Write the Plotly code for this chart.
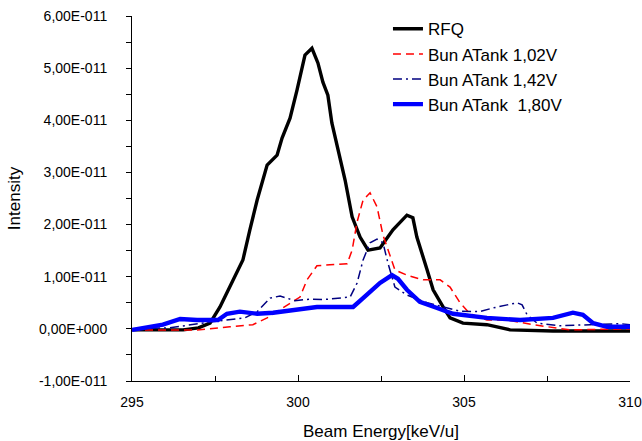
import numpy as np
import plotly.graph_objects as go

SCALE = 1e-11

rfq_e = [295.0, 296.54, 297.0, 297.35, 297.65, 297.95, 298.34, 298.55, 298.77, 299.07, 299.37, 299.52,
         299.76, 299.97, 300.21, 300.42, 300.60, 300.75, 300.90, 301.02, 301.20, 301.42, 301.63, 301.87,
         302.11, 302.47, 302.86, 303.28, 303.46, 303.58, 303.89, 304.07, 304.37, 304.58, 304.97, 305.69,
         306.39, 307.68, 310.0]
rfq_i = [-0.02, -0.02, 0.02, 0.11, 0.42, 0.80, 1.32, 1.90, 2.47, 3.14, 3.33, 3.66,
         4.04, 4.58, 5.25, 5.38, 5.10, 4.73, 4.48, 3.95, 3.43, 2.85, 2.15, 1.76,
         1.51, 1.55, 1.90, 2.18, 2.13, 1.76, 1.13, 0.75, 0.42, 0.21, 0.11, 0.08,
         -0.02, -0.04, -0.04]

v102_e = [295.0, 295.75, 296.96, 297.95, 298.64, 299.07, 299.67, 300.06, 300.27, 300.57, 300.96, 301.48,
          301.63, 301.78, 301.96, 302.17, 302.38, 302.56, 302.92, 303.28, 303.77, 304.28, 304.58, 304.88,
          305.18, 305.69, 306.30, 307.08, 308.19, 310.0]
v102_i = [-0.02, -0.02, -0.02, 0.04, 0.08, 0.21, 0.46, 0.61, 0.94, 1.21, 1.23, 1.25,
          1.51, 2.05, 2.47, 2.61, 2.34, 1.80, 1.13, 1.03, 0.94, 0.94, 0.80, 0.50,
          0.29, 0.17, 0.17, 0.08, -0.02, 0.0]

v142_e = [295.0, 296.14, 297.35, 298.40, 298.77, 299.16, 299.46, 299.91, 300.36, 300.75, 301.57, 301.78,
          301.96, 302.17, 302.38, 302.56, 302.71, 302.92, 303.28, 303.89, 304.37, 304.88, 305.48, 305.87,
          306.30, 306.60, 306.75, 306.90, 307.20, 307.89, 308.80, 309.70, 310.0]
v142_i = [0.0, 0.02, 0.13, 0.21, 0.33, 0.59, 0.63, 0.54, 0.57, 0.56, 0.61, 0.88,
          1.32, 1.65, 1.72, 1.65, 1.26, 0.80, 0.65, 0.50, 0.42, 0.34, 0.33, 0.40,
          0.46, 0.50, 0.46, 0.27, 0.11, 0.06, 0.08, 0.10, 0.08]

v180_e = [295.0, 295.45, 295.93, 296.45, 296.96, 297.59, 297.86, 298.25, 298.77, 299.25, 299.97, 300.57,
          301.17, 301.66, 301.96, 302.47, 302.83, 303.01, 303.28, 303.67, 304.19, 304.67, 305.69, 306.69,
          307.68, 308.28, 308.58, 308.89, 309.31, 310.0]
v180_i = [-0.02, 0.02, 0.08, 0.19, 0.17, 0.17, 0.29, 0.33, 0.29, 0.31, 0.36, 0.42,
          0.42, 0.42, 0.59, 0.88, 1.03, 0.96, 0.75, 0.52, 0.40, 0.29, 0.21, 0.17,
          0.21, 0.31, 0.27, 0.11, 0.04, 0.04]

names = ["RFQ", "Bun ATank 1,02V", "Bun ATank 1,42V", "Bun ATank  1,80V"]
ytickvals = [-1, 0, 1, 2, 3, 4, 5, 6]
yticktext = ["-1,00E-011", "0,00E+000", "1,00E-011", "2,00E-011", "3,00E-011",
             "4,00E-011", "5,00E-011", "6,00E-011"]
xtickvals = [295, 300, 305, 310]

FONT = "Arial, 'Liberation Sans', sans-serif"

fig = go.Figure()
series = [
    (rfq_e, rfq_i, dict(color="black", width=3.4)),
    (v102_e, v102_i, dict(color="#ff0000", width=1.5, dash="8px,5px")),
    (v142_e, v142_i, dict(color="#000080", width=1.5, dash="9px,4px,2px,4px")),
    (v180_e, v180_i, dict(color="#0000ff", width=4.4)),
]
for (e, i, ln), nm in zip(series, names):
    fig.add_trace(go.Scatter(x=e, y=np.array(i) * SCALE, mode="lines", name=nm, line=ln))

fig.update_layout(
    width=642, height=441,
    margin=dict(l=132, r=12, t=16, b=60, autoexpand=False),
    paper_bgcolor="white", plot_bgcolor="white",
    font=dict(family=FONT, size=14, color="black"),
    showlegend=True,
    legend=dict(x=0.514, y=1.013, xanchor="left", yanchor="top",
                bgcolor="rgba(0,0,0,0)", borderwidth=0,
                font=dict(size=17, family=FONT), itemwidth=30,
                tracegroupgap=0),
    xaxis=dict(range=[295, 310], tickvals=xtickvals, ticks="inside", ticklen=6,
               tickcolor="black", showline=True, linecolor="black", linewidth=1,
               showgrid=False, zeroline=False, mirror=False, automargin=False,
               minor=dict(dtick=2.5, tick0=295, ticks="inside", ticklen=5, tickcolor="black", showgrid=False),
               ticklabelstandoff=8,
               title=dict(text="Beam Energy[keV/u]", font=dict(size=17), standoff=18),
               tickfont=dict(size=14)),
    yaxis=dict(range=[-1 * SCALE, 6 * SCALE], tickvals=[v * SCALE for v in ytickvals],
               ticktext=yticktext, ticks="outside", ticklen=5, tickcolor="black",
               showline=True, linecolor="black", linewidth=1, showgrid=False, zeroline=False,
               automargin=False,
               minor=dict(tickvals=[(v + 0.5) * SCALE for v in ytickvals[:-1]], ticks="outside",
                          ticklen=5, tickcolor="black", showgrid=False),
               ticklabelstandoff=16,
               title=dict(text="Intensity", font=dict(size=17), standoff=14),
               tickfont=dict(size=14)),
)

fig.write_html("out.html")
